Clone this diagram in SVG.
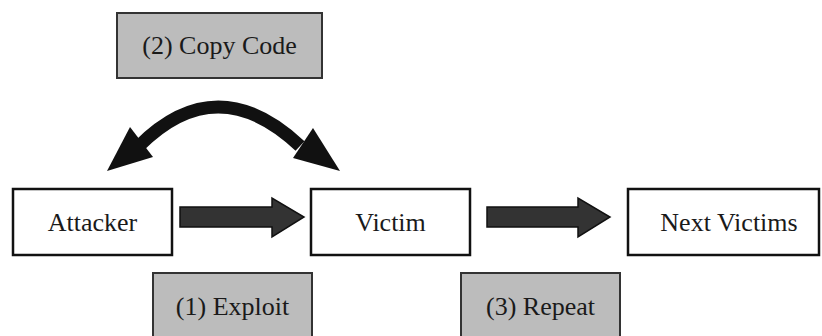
<svg xmlns="http://www.w3.org/2000/svg" width="822" height="336" viewBox="0 0 822 336">
<style>
.node{fill:#fff;stroke:#111;stroke-width:2.5}
.step{fill:#bcbcbc;stroke:#333;stroke-width:2}
text{font-family:"Liberation Serif","DejaVu Serif",serif;font-size:26px;fill:#1a1a1a;text-anchor:middle}
.arrow{fill:#333;stroke:#111;stroke-width:1.5}
</style>
<rect width="822" height="336" fill="#fff"/>
<g id="copy-code"><rect class="step" x="117" y="13" width="205" height="65"/><text x="219.5" y="54">(2) Copy Code</text></g>
<g id="attacker"><rect class="node" x="13" y="189" width="159" height="66"/><text x="92.5" y="231">Attacker</text></g>
<g id="victim"><rect class="node" x="311" y="189" width="159" height="66"/><text x="390.5" y="231">Victim</text></g>
<g id="next-victims"><rect class="node" x="628" y="189" width="191" height="66"/><text x="729" y="231">Next Victims</text></g>
<g id="exploit"><rect class="step" x="153" y="273" width="159" height="70"/><text x="232.5" y="315">(1) Exploit</text></g>
<g id="repeat"><rect class="step" x="461" y="273" width="159" height="70"/><text x="540.5" y="315">(3) Repeat</text></g>
<g id="connectors">
<path class="arrow" d="M180,207 H272 V198 L304,217 L272,237 V227 H180 Z"/>
<path class="arrow" d="M487,207 H578 V198 L610,217 L578,237 V227 H487 Z"/>
<path d="M139,146 Q217,68 300,146" fill="none" stroke="#111" stroke-width="13"/>
<polygon points="107,171 130,127 153,157" fill="#111"/>
<polygon points="340,171 313,128 293,158" fill="#111"/>
</g>
</svg>
